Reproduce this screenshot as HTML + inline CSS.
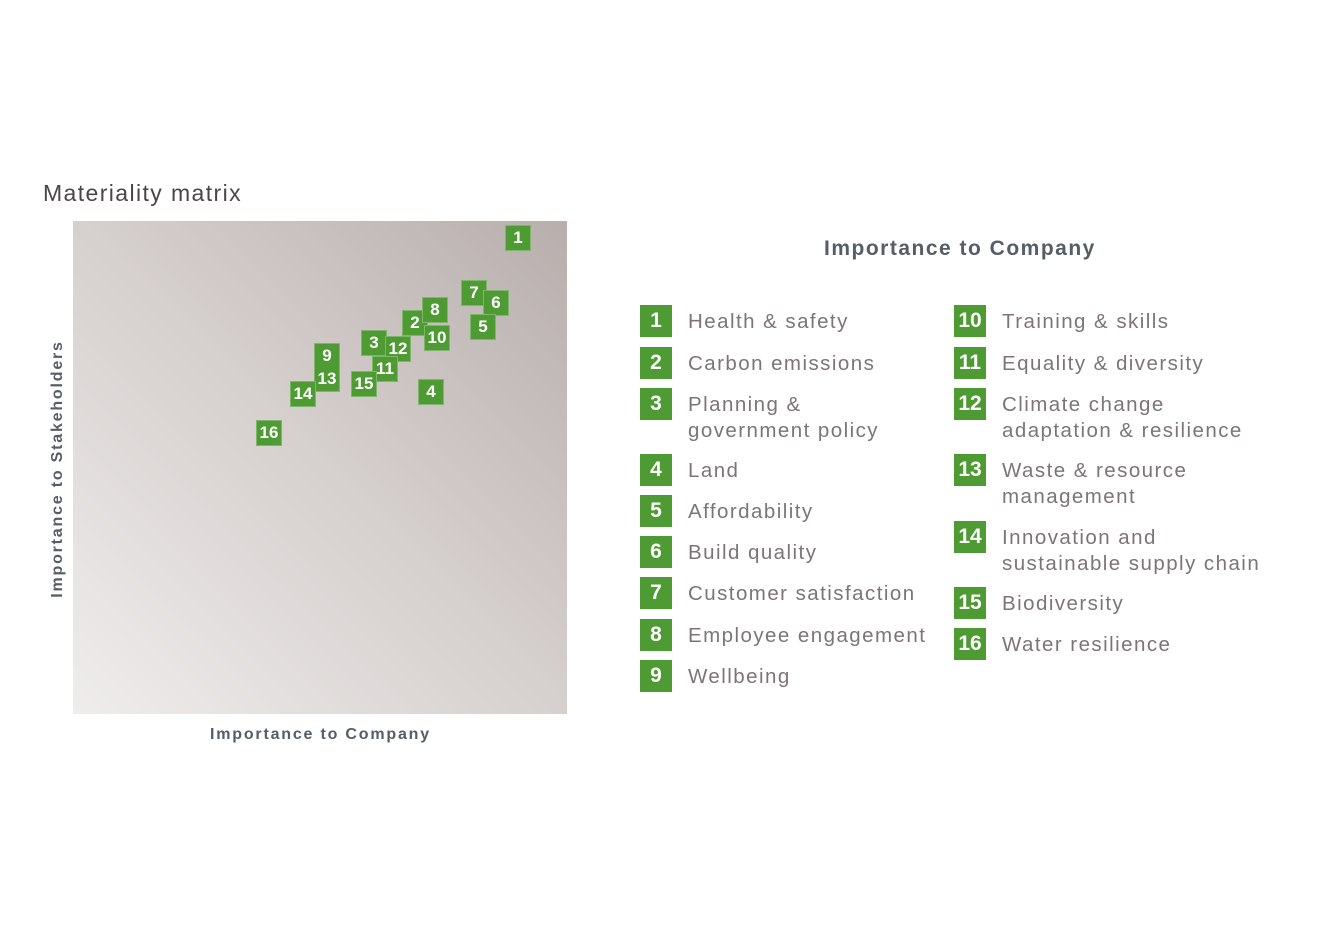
<!DOCTYPE html>
<html><head><meta charset="utf-8"><style>
body{margin:0;width:1320px;height:933px;background:#fff;position:relative;overflow:hidden;font-family:"Liberation Sans",sans-serif}
.a{position:absolute}
.b{position:absolute;background:#4e9a33;color:#fff;font-weight:bold;display:flex;align-items:center;justify-content:center;border:1px solid #7fb56a;box-sizing:border-box}
.c{width:26px;height:26px;font-size:17px}
.l{width:32px;height:32px;font-size:21px;border:none}
.t{position:absolute;color:#7d7575;font-size:20.5px;line-height:25.5px;letter-spacing:1.45px;white-space:nowrap}
</style></head><body>
<div class="a" style="left:43px;top:180px;font-size:23px;color:#4a4646;letter-spacing:1.4px">Materiality matrix</div>
<div class="a" style="left:73px;top:221px;width:494px;height:493px;background:linear-gradient(to top right,#efedec 0%,#d6d0ce 50%,#b8afad 100%)"></div>
<div class="a" style="left:210px;top:726px;font-size:16px;font-weight:bold;color:#555d66;letter-spacing:1.8px">Importance to Company</div>
<div class="a" style="left:58px;top:469px;transform:translate(-50%,-50%) rotate(-90deg);font-size:16px;font-weight:bold;color:#555d66;letter-spacing:1.8px;white-space:nowrap">Importance to Stakeholders</div>

<div class="b c" style="left:505px;top:225px">1</div>
<div class="b c" style="left:461px;top:280px">7</div>
<div class="b c" style="left:483px;top:290px">6</div>
<div class="b c" style="left:470px;top:314px">5</div>
<div class="b c" style="left:402px;top:310px">2</div>
<div class="b c" style="left:422px;top:297px">8</div>
<div class="b c" style="left:424px;top:325px">10</div>
<div class="b c" style="left:361px;top:330px">3</div>
<div class="b c" style="left:385px;top:336px">12</div>
<div class="b c" style="left:372px;top:356px">11</div>
<div class="b c" style="left:351px;top:371px">15</div>
<div class="b c" style="left:314px;top:343px;height:48px;align-items:flex-start;padding-top:2px">9</div>
<div class="b c" style="left:314px;top:366px;border-top:none">13</div>
<div class="b c" style="left:290px;top:381px">14</div>
<div class="b c" style="left:418px;top:379px">4</div>
<div class="b c" style="left:256px;top:420px">16</div>

<div class="a" style="left:824px;top:237px;font-size:21px;font-weight:bold;color:#555d66;letter-spacing:1.5px">Importance to Company</div>

<div class="b l" style="left:640px;top:305px">1</div><div class="t" style="left:688px;top:309px">Health &amp; safety</div>
<div class="b l" style="left:640px;top:347px">2</div><div class="t" style="left:688px;top:351px">Carbon emissions</div>
<div class="b l" style="left:640px;top:388px">3</div><div class="t" style="left:688px;top:392px">Planning &amp;<br>government policy</div>
<div class="b l" style="left:640px;top:454px">4</div><div class="t" style="left:688px;top:458px">Land</div>
<div class="b l" style="left:640px;top:495px">5</div><div class="t" style="left:688px;top:499px">Affordability</div>
<div class="b l" style="left:640px;top:536px">6</div><div class="t" style="left:688px;top:540px">Build quality</div>
<div class="b l" style="left:640px;top:577px">7</div><div class="t" style="left:688px;top:581px">Customer satisfaction</div>
<div class="b l" style="left:640px;top:619px">8</div><div class="t" style="left:688px;top:623px">Employee engagement</div>
<div class="b l" style="left:640px;top:660px">9</div><div class="t" style="left:688px;top:664px">Wellbeing</div>

<div class="b l" style="left:954px;top:305px">10</div><div class="t" style="left:1002px;top:309px">Training &amp; skills</div>
<div class="b l" style="left:954px;top:347px">11</div><div class="t" style="left:1002px;top:351px">Equality &amp; diversity</div>
<div class="b l" style="left:954px;top:388px">12</div><div class="t" style="left:1002px;top:392px">Climate change<br>adaptation &amp; resilience</div>
<div class="b l" style="left:954px;top:454px">13</div><div class="t" style="left:1002px;top:458px">Waste &amp; resource<br>management</div>
<div class="b l" style="left:954px;top:521px">14</div><div class="t" style="left:1002px;top:525px">Innovation and<br>sustainable supply chain</div>
<div class="b l" style="left:954px;top:587px">15</div><div class="t" style="left:1002px;top:591px">Biodiversity</div>
<div class="b l" style="left:954px;top:628px">16</div><div class="t" style="left:1002px;top:632px">Water resilience</div>
</body></html>
